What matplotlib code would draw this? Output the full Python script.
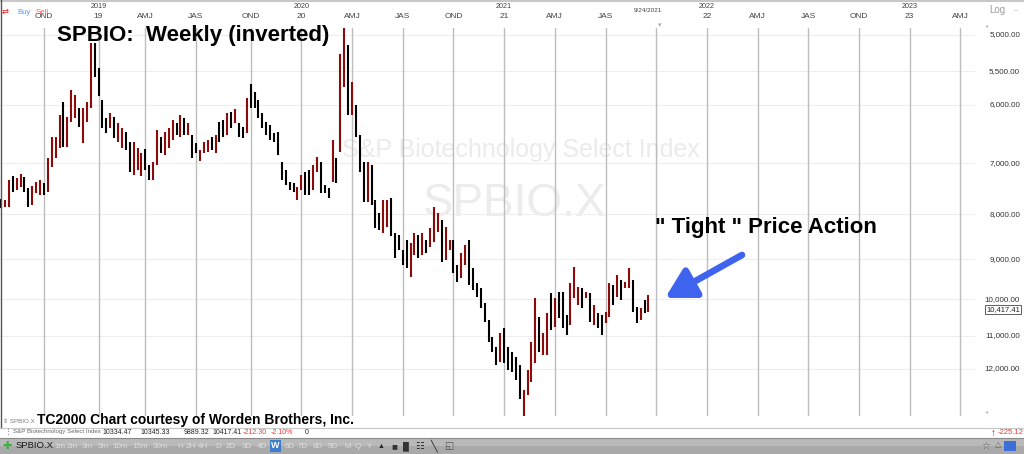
import numpy as np
import pandas as pd
import matplotlib
matplotlib.use("Agg")
import matplotlib.pyplot as plt
from matplotlib import transforms
from matplotlib.patches import Rectangle
from matplotlib.lines import Line2D

# ---------------- data (weekly bars, SPBIO) ----------------
first_week = "2018-07-16"          # Monday of the first weekly bar
last_date_label = "9/24/2021"
last_value_label = "10,417.41"
last_value_level = 10260

bar_low = [
    7686, 7706, 7312, 7236, 7274, 7199, 7255, 7467, 7428, 7351,
    7312, 7370, 6903, 6533, 6533, 6167, 5960, 6199, 5775, 5852,
    6055, 6055, 5960, 5106, 5106, 5452, 5929, 6216, 6135, 6199,
    6298, 6381, 6448, 6619, 6619, 6724, 6813, 6742, 7031, 6976,
    6414, 6533, 6448, 6381, 6248, 6298, 6167, 6216, 6298, 6499,
    6636, 6759, 6619, 6584, 6533, 6499, 6281, 6248, 6135, 6118,
    6070, 6298, 6364, 5898, 5686, 5806, 5929, 6135, 6281, 6331,
    6465, 6448, 6976, 7123, 7351, 7370, 7448, 7218, 7161, 7123,
    7031, 6885, 6976, 7409, 7467, 6584, 6903, 5256, 4909, 5133,
    5656, 6008, 6499, 6976, 6976, 7031, 7706, 7973, 7706, 7706,
    7666, 8402, 8447, 8785, 8557, 8625, 8402, 8447, 8402, 8557,
    8293, 7849, 7973, 8120, 8271, 8557, 8557, 9138, 8855, 8671,
    8557, 9210, 9579, 9705, 10095, 10554, 11036, 11329, 10920, 10778,
    11329, 11479, 11630, 11877, 12680, 12032, 11181, 9963, 10472, 10920,
    10363, 9834, 9963, 9808, 9808, 10418, 9579, 9186, 9680, 9705,
    9808, 9834, 10148, 10363, 10418, 10336, 9579, 9630, 9381, 9503,
    9554, 9210, 9503, 10201, 10228, 10015, 9886,
]
bar_high = [
    7869, 7849, 7849, 7546, 7506, 7448, 7546, 7849, 7808, 7566,
    7606, 7606, 7546, 7068, 6903, 6724, 6706, 6706, 6281, 6216,
    6364, 6636, 6281, 6055, 5582, 5867, 6381, 6465, 6381, 6550,
    6619, 6724, 6759, 7161, 7218, 7123, 7236, 7123, 7312, 7312,
    7031, 6813, 6849, 6724, 6584, 6499, 6533, 6499, 6499, 6903,
    6813, 6957, 6813, 6795, 6759, 6813, 6619, 6533, 6499, 6381,
    6298, 6533, 6550, 6465, 6055, 6055, 6216, 6381, 6499, 6584,
    6619, 6849, 7312, 7409, 7506, 7546, 7706, 7506, 7606, 7606,
    7506, 7161, 7566, 7566, 7666, 7351, 7370, 6795, 5730, 6167,
    6167, 6533, 7161, 7747, 7747, 7808, 8293, 8336, 8402, 8271,
    8469, 8971, 8785, 9138, 9210, 9430, 8902, 8971, 8902, 8855,
    8717, 8603, 8380, 9066, 9018, 8785, 9332, 9554, 9454, 9138,
    9630, 9756, 9937, 10215, 10610, 11181, 11479, 11877, 11783, 11814,
    12032, 12096, 12352, 12983, 13611, 12849, 12418, 11814, 11479, 11570,
    11570, 10834, 10750, 10499, 10778, 10978, 10694, 9963, 10148, 10215,
    9963, 10610, 10694, 10778, 10978, 10638, 10472, 10148, 9937, 10015,
    9705, 9705, 10336, 10638, 10554, 10363, 10336,
]
bar_dir = ("krrkrrkkrr" "rkrrrrkrrr" "krrrkkkkrk" "rrkkrrrkkr" "rkrrrkrkrk"
           "krrrkrkkrk" "rkkrkkkkkk" "kkkkkkrrkk" "rrkkkrkrrk" "rkkkrkkkrr"
           "kkkkkrrkrk" "rrrkrrkkrr" "kkkkkkkkrk" "kkkkrrrrkr" "rkrkkkrrrk"
           "rkrkkrrkrk" "rrkkrkr")

y_ticks = [5000, 5500, 6000, 7000, 8000, 9000, 10000, 11000, 12000]
quarter_names = {2: "AMJ", 3: "JAS", 4: "OND"}

status_values = ["10334.47", "10345.33", "9889.32", "10417.41", "-212.30", "-2.10%", "0"]
toolbar_labels = ["1m", "2m", "3m", "5m", "10m", "15m", "30m", "H", "2H", "4H", "D",
                  "2D", "3D", "4D", "W", "6D", "7D", "8D", "9D", "M", "Q", "Y"]

# ---------------- figure geometry ----------------
W, H, DPI = 1024, 454, 100
FONT = "Liberation Sans"
plt.rcParams["font.family"] = [FONT, "DejaVu Sans"]

fig = plt.figure(figsize=(W / DPI, H / DPI), dpi=DPI)
fig.patch.set_facecolor("white")

def fx(px):
    return px / W

def fy(py):
    return 1 - py / H

ax_left, ax_right, ax_top, ax_bot = 0, 975, 28, 416
ax = fig.add_axes([fx(ax_left), fy(ax_bot), fx(ax_right - ax_left), (ax_bot - ax_top) / H])
ax.set_axis_off()

n = len(bar_low)
idx = np.arange(n)
step_px = 3.9
ax.set_xlim((ax_left - 1) / step_px, (ax_right - 1) / step_px)
ax.set_yscale("log")
ax.set_ylim(13574, 4909)          # inverted price axis

# horizontal price gridlines
for v in y_ticks:
    ax.axhline(v, color="#eeeeee", lw=0.8, zorder=0.8)

# quarter gridlines from weekly dates
n_total = int(np.ceil(ax.get_xlim()[1])) + 1
dates = pd.date_range(first_week, periods=n_total, freq="7D")
quarters = dates.to_period("Q")
xlab_tr = transforms.blended_transform_factory(ax.transData, fig.transFigure)
for i in range(1, n_total):
    if quarters[i] != quarters[i - 1]:
        ax.axvline(i, color="#bdbdbd", lw=1.0, zorder=1)
        if abs(i - (n - 1)) < 4:
            continue
        q = quarters[i].quarter
        yr = quarters[i].year
        lab = f"{yr % 100:02d}" if q == 1 else quarter_names[q]
        ax.text(i, fy(17), lab, transform=xlab_tr, ha="center", va="center",
                fontsize=6, color="#444444", clip_on=False)
        if q == 1:
            ax.text(i, fy(6), str(yr), transform=xlab_tr, ha="center", va="center",
                    fontsize=5.2, color="#444444", clip_on=False)

# last date marker label
ax.text(n - 1, fy(11), last_date_label, transform=xlab_tr, ha="center", va="center",
        fontsize=4.6, color="#444444", clip_on=False)
ax.text(n + 2, fy(26), "\u25be", transform=xlab_tr, ha="center", va="center",
        fontsize=5, color="#aaaaaa", clip_on=False)

# watermarks
ax.text(fx(521), fy(150), "S&P Biotechnology Select Index", transform=fig.transFigure,
        ha="center", va="center", fontsize=18, color="#ebebeb", zorder=0.5)
ax.text(fx(515), fy(204), "SPBIO.X", transform=fig.transFigure,
        ha="center", va="center", fontsize=33, color="#ececec", zorder=0.5)

# weekly bars
colors = ["#8b0a0a" if c == "r" else "#000000" for c in bar_dir]
ax.vlines(idx, bar_low, bar_high, colors=colors, linewidth=1.5, zorder=2)

# price labels at right
ylab_tr = transforms.blended_transform_factory(fig.transFigure, ax.transData)
for v in y_ticks:
    ax.text(fx(1020), v, f"{v:,.2f}", transform=ylab_tr, ha="right", va="center",
            fontsize=5.8, color="#333333", clip_on=False)
ax.text(fx(1020), last_value_level, last_value_label, transform=ylab_tr, ha="right",
        va="center", fontsize=5.4, color="#222222", clip_on=False, zorder=5,
        bbox=dict(boxstyle="square,pad=0.12", fc="white", ec="#444444", lw=0.6))

# arrow
ax.annotate("", xy=(170.3, 9960), xytext=(190.0, 8900),
            arrowprops=dict(arrowstyle="-|>,head_length=0.8,head_width=0.45",
                            mutation_scale=22, lw=4.8, color="#3e64ef",
                            shrinkA=0, shrinkB=0, capstyle="round"),
            zorder=6)

# titles / annotations
fig.text(fx(57), fy(41), "SPBIO:  Weekly (inverted)", fontsize=16, fontweight="bold",
         family=FONT, va="baseline", ha="left", color="#000000")
fig.text(fx(655), fy(233), "\" Tight \" Price Action", fontsize=16, fontweight="bold",
         family=FONT, va="baseline", ha="left", color="#000000")
fig.text(fx(3), fy(423), "\u21d5 SPBIO.X", fontsize=4.4, color="#777777", va="baseline")
fig.text(fx(37), fy(424), "TC2000 Chart courtesy of Worden Brothers, Inc.", fontsize=10,
         fontweight="bold", family=FONT, va="baseline", ha="left", color="#000000")

# header chrome
fig.add_artist(Line2D([0, 1], [fy(1), fy(1)], color="#c8c8c8", lw=1.5))
fig.add_artist(Line2D([fx(0.5), fx(0.5)], [fy(0), fy(428)], color="#555555", lw=1.0))
fig.text(fx(2), fy(12), "\u21c4", fontsize=6, color="#e02020", va="center")
fig.text(fx(17), fy(12), "Buy", fontsize=5.6, color="#5a9fe6", va="center")
fig.text(fx(36), fy(12), "Sell", fontsize=5.6, color="#ff5a4a", va="center")
fig.text(fx(989), fy(10), "Log", fontsize=7, color="#999999", va="center")
fig.text(fx(1014), fy(11), "\u2013", fontsize=5, color="#bbbbbb", va="center")
fig.text(fx(985), fy(26), "\u25c2", fontsize=4.5, color="#bbbbbb", va="center")
fig.text(fx(985), fy(412), "\u25c2", fontsize=4.5, color="#bbbbbb", va="center")

# status line
fig.add_artist(Line2D([0, 1], [fy(428), fy(428)], color="#c8c8c8", lw=0.8))
fig.text(fx(5), fy(432), "\u22ee", fontsize=5, color="#555555", va="center")
fig.text(fx(13), fy(432), "S&P Biotechnology Select Index", fontsize=4.4, color="#666666",
         va="center")
status_x = [102, 140, 184, 212, 243, 271, 305]
for sx, sv in zip(status_x, status_values):
    col = "#ff3030" if sv.startswith("-") else "#222222"
    fig.text(fx(sx), fy(432), sv, fontsize=5, color=col, va="center")
fig.text(fx(991), fy(433), "\u2191", fontsize=7, color="#e00000", va="center",
         fontweight="bold")
fig.text(fx(998), fy(433), "-225.12", fontsize=5.5, color="#ff3030", va="center")

# toolbar
fig.add_artist(Rectangle((0, 0), 1, (H - 438) / H, transform=fig.transFigure,
                         fc="#a9a9a9", ec="none"))
fig.add_artist(Rectangle((0, (H - 446) / H), 1, 8 / H, transform=fig.transFigure,
                         fc="#b9b9b9", ec="none"))
fig.add_artist(Line2D([0, 1], [fy(438), fy(438)], color="#8a8a8a", lw=0.8))
fig.text(fx(2), fy(446), "\u271a", fontsize=8, color="#3cb043", va="center")
fig.text(fx(16), fy(446), "SPBIO.X", fontsize=6.8, color="#1a1a1a", va="center")
tb_x = [60, 72, 87, 103, 120, 140, 160, 180, 191, 203, 218, 231, 247, 262, 275, 290,
        303, 318, 333, 348, 358, 369]
for tx, tl in zip(tb_x, toolbar_labels):
    if tl == "W":
        fig.add_artist(Rectangle((fx(tx - 5), fy(452)), 11 / W, 12 / H,
                                 transform=fig.transFigure, fc="#3c7dd0", ec="none"))
        fig.text(fx(tx), fy(446), tl, fontsize=6.5, color="#ffffff", va="center",
                 ha="center", fontweight="bold")
    else:
        fig.text(fx(tx), fy(446), tl, fontsize=5.8, color="#dcdcdc", va="center", ha="center")
fig.text(fx(381), fy(446), "\u25b2", fontsize=5, color="#222222", va="center", ha="center")
fig.text(fx(394), fy(446), "\u25a0", fontsize=7, color="#333333", va="center", ha="center")
fig.text(fx(406), fy(446), "\u2590\u258c", fontsize=6, color="#333333", va="center", ha="center")
fig.text(fx(420), fy(446), "\u2637", fontsize=7, color="#333333", va="center", ha="center")
fig.text(fx(434), fy(446), "\u2572", fontsize=8, color="#333333", va="center", ha="center")
fig.text(fx(449), fy(446), "\u25f1", fontsize=7, color="#555555", va="center", ha="center")
fig.text(fx(986), fy(446), "\u2606", fontsize=7, color="#666666", va="center", ha="center")
fig.text(fx(998), fy(446), "\u25b3", fontsize=6, color="#666666", va="center", ha="center")
fig.add_artist(Rectangle((fx(1004), fy(451)), 12 / W, 10 / H, transform=fig.transFigure,
                         fc="#3c6fd8", ec="none"))

fig.savefig("out.png", dpi=DPI, facecolor="white")
